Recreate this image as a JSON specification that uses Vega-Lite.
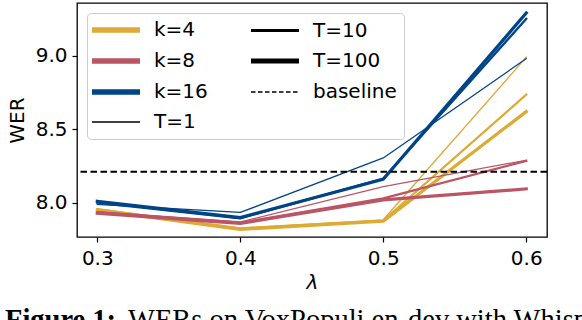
{
  "$schema": "https://vega.github.io/schema/vega-lite/v6.json",
  "width": 470,
  "height": 234,
  "autosize": {"type": "none"},
  "padding": {"left": 77, "top": 3, "right": 35, "bottom": 83},
  "background": "white",
  "config": {
    "view": {"stroke": "black", "strokeWidth": 1.3},
    "font": "DejaVu Sans",
    "axis": {
      "domain": false, "grid": false, "tickColor": "black", "tickSize": 5, "tickWidth": 1.2,
      "labelFontSize": 20, "labelColor": "black", "labelFont": "DejaVu Sans",
      "titleFont": "DejaVu Sans", "titleFontSize": 20, "titleFontWeight": "normal", "titleColor": "black"
    },
    "axisX": {"labelPadding": 6, "titlePadding": 4},
    "axisY": {"labelPadding": 5, "titlePadding": 8}
  },
  "title": {
    "text": "Figure 1:",
    "subtitle": "WERs on VoxPopuli en-dev with Whisper",
    "orient": "bottom", "anchor": "start", "frame": "group", "dx": -72, "offset": 14,
    "font": "Liberation Serif", "fontSize": 28.5, "fontWeight": "bold", "color": "black",
    "subtitleFont": "Liberation Serif", "subtitleFontSize": 28.5, "subtitleFontWeight": "normal",
    "subtitleColor": "black", "subtitlePadding": -28.5,
    "encode": {"subtitle": {"update": {"dx": {"value": 51}}}}
  },
  "datasets": {
    "wer": [
      {"lam": 0.3, "wer": 7.96, "k": "k=4", "T": "T=1"},
      {"lam": 0.4, "wer": 7.83, "k": "k=4", "T": "T=1"},
      {"lam": 0.5, "wer": 7.885, "k": "k=4", "T": "T=1"},
      {"lam": 0.6, "wer": 8.99, "k": "k=4", "T": "T=1"},
      {"lam": 0.3, "wer": 7.955, "k": "k=4", "T": "T=10"},
      {"lam": 0.4, "wer": 7.825, "k": "k=4", "T": "T=10"},
      {"lam": 0.5, "wer": 7.88, "k": "k=4", "T": "T=10"},
      {"lam": 0.6, "wer": 8.735, "k": "k=4", "T": "T=10"},
      {"lam": 0.3, "wer": 7.95, "k": "k=4", "T": "T=100"},
      {"lam": 0.4, "wer": 7.82, "k": "k=4", "T": "T=100"},
      {"lam": 0.5, "wer": 7.875, "k": "k=4", "T": "T=100"},
      {"lam": 0.6, "wer": 8.62, "k": "k=4", "T": "T=100"},
      {"lam": 0.3, "wer": 7.94, "k": "k=8", "T": "T=1"},
      {"lam": 0.4, "wer": 7.87, "k": "k=8", "T": "T=1"},
      {"lam": 0.5, "wer": 8.11, "k": "k=8", "T": "T=1"},
      {"lam": 0.6, "wer": 8.29, "k": "k=8", "T": "T=1"},
      {"lam": 0.3, "wer": 7.935, "k": "k=8", "T": "T=10"},
      {"lam": 0.4, "wer": 7.865, "k": "k=8", "T": "T=10"},
      {"lam": 0.5, "wer": 8.03, "k": "k=8", "T": "T=10"},
      {"lam": 0.6, "wer": 8.285, "k": "k=8", "T": "T=10"},
      {"lam": 0.3, "wer": 7.93, "k": "k=8", "T": "T=100"},
      {"lam": 0.4, "wer": 7.86, "k": "k=8", "T": "T=100"},
      {"lam": 0.5, "wer": 8.02, "k": "k=8", "T": "T=100"},
      {"lam": 0.6, "wer": 8.095, "k": "k=8", "T": "T=100"},
      {"lam": 0.3, "wer": 7.99, "k": "k=16", "T": "T=1"},
      {"lam": 0.4, "wer": 7.935, "k": "k=16", "T": "T=1"},
      {"lam": 0.5, "wer": 8.305, "k": "k=16", "T": "T=1"},
      {"lam": 0.6, "wer": 8.98, "k": "k=16", "T": "T=1"},
      {"lam": 0.3, "wer": 8.0, "k": "k=16", "T": "T=10"},
      {"lam": 0.4, "wer": 7.895, "k": "k=16", "T": "T=10"},
      {"lam": 0.5, "wer": 8.165, "k": "k=16", "T": "T=10"},
      {"lam": 0.6, "wer": 9.25, "k": "k=16", "T": "T=10"},
      {"lam": 0.3, "wer": 8.01, "k": "k=16", "T": "T=100"},
      {"lam": 0.4, "wer": 7.9, "k": "k=16", "T": "T=100"},
      {"lam": 0.5, "wer": 8.16, "k": "k=16", "T": "T=100"},
      {"lam": 0.6, "wer": 9.29, "k": "k=16", "T": "T=100"}
    ],
    "base": [{"wer": 8.212}]
  },
  "layer": [
    {
      "data": {"name": "wer"},
      "mark": {"type": "line", "strokeCap": "square", "strokeJoin": "round"},
      "encoding": {
        "x": {
          "field": "lam", "type": "quantitative",
          "scale": {"domain": [0.2858, 0.6145], "nice": false, "zero": false},
          "axis": {"values": [0.3, 0.4, 0.5, 0.6], "format": ".1f", "title": "λ", "titleFontStyle": "italic"}
        },
        "y": {
          "field": "wer", "type": "quantitative",
          "scale": {"domain": [7.768, 9.358], "nice": false, "zero": false},
          "axis": {"values": [8, 8.5, 9], "format": ".1f", "title": "WER"}
        },
        "color": {
          "field": "k", "type": "nominal",
          "scale": {
            "domain": ["k=4", "k=8", "k=16", "T=1", "T=10", "T=100", "baseline"],
            "range": ["#DDAA33", "#BB5566", "#004488", "black", "black", "black", "black"]
          },
          "legend": {
            "title": null, "orient": "top-left", "offset": 10, "columns": 2,
            "values": ["k=4", "k=8", "k=16", "T=1", "T=10", "T=100", "baseline"],
            "symbolType": "M-2.4,0H2.4", "symbolSize": 400, "symbolStrokeWidth": 5,
            "labelFontSize": 20, "labelColor": "black", "labelFont": "DejaVu Sans", "labelOffset": 14,
            "columnPadding": 33, "rowPadding": 9, "padding": 7,
            "fillColor": "rgba(255,255,255,0.8)", "strokeColor": "#cccccc", "cornerRadius": 4,
            "encode": {
              "symbols": {
                "update": {
                  "x": {"value": 22},
                  "strokeWidth": {"signal": "datum.value === 'T=1' ? 1.3 : datum.value === 'T=10' ? 3.2 : datum.value === 'baseline' ? 1.3 : datum.value === 'T=100' ? 5 : 5.5"},
                  "strokeDash": {"signal": "datum.value === 'baseline' ? [4.5, 2.5] : [1, 0]"}
                }
              },
              "labels": {"update": {"x": {"value": 60}}}
            }
          }
        },
        "strokeWidth": {
          "field": "T", "type": "ordinal",
          "scale": {"domain": ["T=1", "T=10", "T=100"], "range": [1.3, 3.2, 4.8]},
          "legend": null
        }
      }
    },
    {
      "data": {"name": "base"},
      "mark": {"type": "rule", "strokeDash": [6.5, 3.5], "strokeWidth": 2, "color": "black"},
      "encoding": {"y": {"field": "wer", "type": "quantitative"}}
    }
  ]
}
